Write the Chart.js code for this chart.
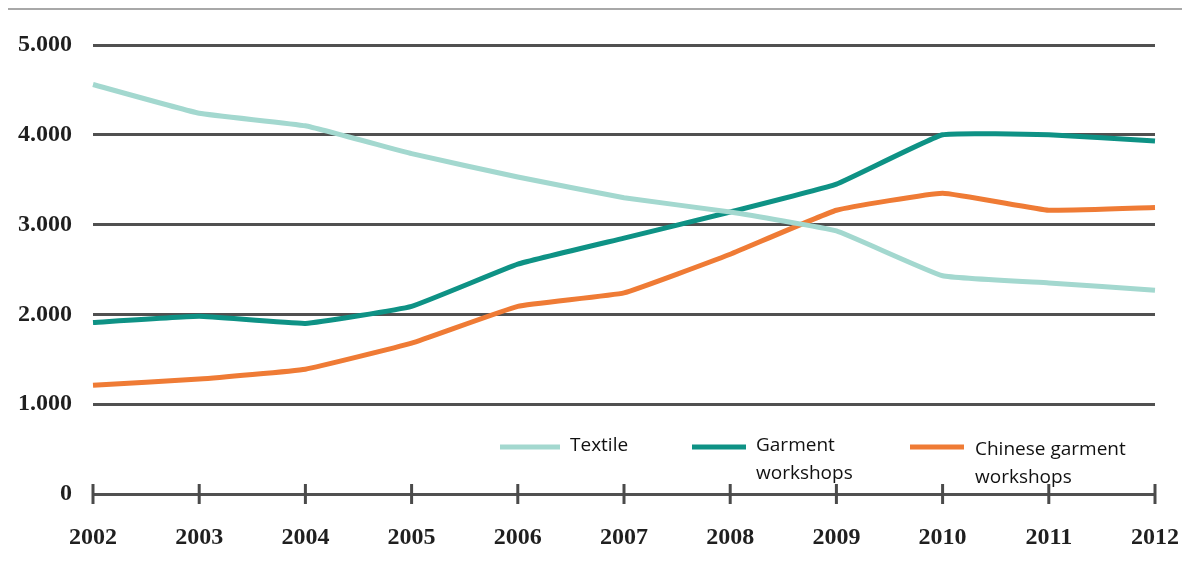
<!DOCTYPE html>
<html><head><meta charset="utf-8">
<script src="https://cdn.jsdelivr.net/npm/chart.js@4"></script>
<style>html,body{margin:0;padding:0;background:#fff;}#wrap{width:1182px;height:567px;}</style>
</head><body><div id="wrap"><canvas id="c" width="1182" height="567"></canvas></div>
<script>
const years = ['2002','2003','2004','2005','2006','2007','2008','2009','2010','2011','2012'];
const textile = [4560,4240,4100,3790,3530,3300,3140,2930,2430,2350,2270];
const garment = [1910,1980,1900,2090,2560,2850,3140,3450,4000,4000,3930];
const chinese = [1210,1280,1390,1680,2090,2240,2670,3160,3350,3160,3190];
const seriesNames = ['Textile','Garment workshops','Chinese garment workshops'];
const legendLines = [['Textile'],['Garment','workshops'],['Chinese garment','workshops']];
const seriesColors = ['#a3d8cf','#0e9285','#ef7b35'];
const yMin = 0, yMax = 5000, yStep = 1000;

function fmt(v){ return String(v).replace(/\B(?=(\d{3})+(?!\d))/g,'.'); }

const topRule = {
  id:'topRule',
  beforeDraw(chart){
    const ctx = chart.ctx; ctx.save();
    ctx.strokeStyle = '#a8a8a8'; ctx.lineWidth = 2;
    ctx.beginPath(); ctx.moveTo(8,9); ctx.lineTo(1182,9); ctx.stroke();
    ctx.restore();
  }
};
const axisTicks = {
  id:'axisTicks',
  beforeDatasetsDraw(chart){
    const ctx = chart.ctx, xs = chart.scales.x, ys = chart.scales.y;
    const y0 = ys.getPixelForValue(0);
    ctx.save(); ctx.strokeStyle = '#4a4a4a'; ctx.lineWidth = 3;
    years.forEach((_,i)=>{
      const x = xs.getPixelForValue(i);
      ctx.beginPath(); ctx.moveTo(x,y0-10); ctx.lineTo(x,y0+10); ctx.stroke();
    });
    ctx.restore();
  }
};
const legendPos = [
  {lx:500, len:60, tx:570, ly:447, ty:446},
  {lx:692, len:54, tx:756, ly:447, ty:446},
  {lx:910, len:54, tx:975, ly:447, ty:450}
];
const customLegend = {
  id:'customLegend',
  afterDraw(chart){
    const ctx = chart.ctx; ctx.save();
    chart.data.datasets.forEach((ds,i)=>{
      const p = legendPos[i];
      ctx.strokeStyle = ds.borderColor; ctx.lineWidth = 5;
      ctx.beginPath(); ctx.moveTo(p.lx,p.ly); ctx.lineTo(p.lx+p.len,p.ly); ctx.stroke();
      ctx.fillStyle = '#111'; ctx.font = '19px "Open Sans", sans-serif';
      ctx.textBaseline = 'middle'; ctx.textAlign = 'left';
      legendLines[i].forEach((t,j)=> ctx.fillText(t, p.tx, p.ty + j*27.5));
    });
    ctx.restore();
  }
};

new Chart(document.getElementById('c'), {
  type:'line',
  data:{
    labels: years,
    datasets:[
      {label:seriesNames[0], data:textile, borderColor:seriesColors[0]},
      {label:seriesNames[1], data:garment, borderColor:seriesColors[1]},
      {label:seriesNames[2], data:chinese, borderColor:seriesColors[2]}
    ]
  },
  options:{
    responsive:false, animation:false, devicePixelRatio:1,
    elements:{ line:{borderWidth:5, tension:0.1, fill:false, borderCapStyle:'butt'}, point:{radius:0} },
    layout:{ padding:{top:45, right:27, left:0, bottom:0} },
    plugins:{ legend:{display:false}, tooltip:{enabled:false} },
    scales:{
      x:{
        type:'category', offset:false,
        grid:{display:false, drawTicks:false},
        border:{display:false},
        ticks:{autoSkip:false, maxRotation:0, padding:29, color:'#1f1f1f',
               font:{family:'"Liberation Serif", serif', weight:'bold', size:24}},
        afterFit(s){ s.height = 73; s.paddingLeft = 0; s.paddingRight = 0; }
      },
      y:{
        min:yMin, max:yMax,
        grid:{color:'#505050', lineWidth:3, drawTicks:false},
        border:{display:false},
        ticks:{stepSize:yStep, padding:21, color:'#1f1f1f', callback:(v)=>fmt(v),
               font:{family:'"Liberation Serif", serif', weight:'bold', size:24}},
        afterFit(s){ s.width = 93; }
      }
    }
  },
  plugins:[topRule, axisTicks, customLegend]
});
</script>
</body></html>
